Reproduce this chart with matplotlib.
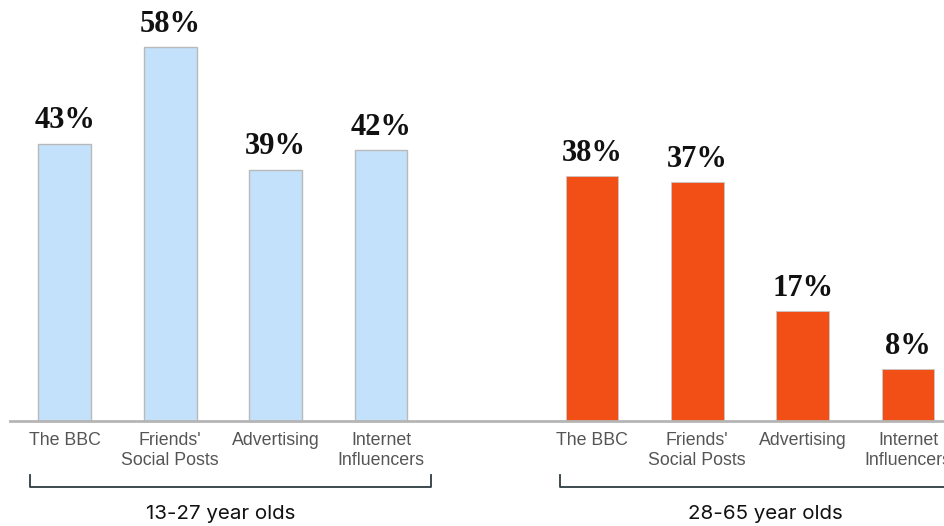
import matplotlib
matplotlib.use('Agg')
import matplotlib.pyplot as plt

# data
categories = ["The BBC", "Friends'\nSocial Posts", "Advertising", "Internet\nInfluencers"]
young_values = [43, 58, 39, 42]
older_values = [38, 37, 17, 8]
group_names = ['13-27 year olds', '28-65 year olds']

young_pos = [0, 1, 2, 3]
older_pos = [5, 6, 7, 8]

fig = plt.figure(figsize=(9.45, 5.26), dpi=100)
ax = fig.add_axes([10 / 945, 105 / 526, 935 / 945, 421 / 526])

ax.bar(young_pos, young_values, width=0.5, color='#c4e1fb', edgecolor='#b9b9b9', linewidth=1)
ax.bar(older_pos, older_values, width=0.5, color='#f24f17', edgecolor='#c8c8c8', linewidth=0.6)

# value labels
for x, v in zip(young_pos + older_pos, young_values + older_values):
    ax.annotate(f'{v}%', (x, v), xytext=(0, 6), textcoords='offset points',
                ha='center', va='bottom', fontsize=22, fontweight='bold',
                family='Liberation Serif', color='#111111')

ax.set_xlim(-0.52, 8.35)
ax.set_ylim(0, 65.3)

for s in ['top', 'right', 'left']:
    ax.spines[s].set_visible(False)
ax.spines['bottom'].set_color('#b5b5b5')
ax.spines['bottom'].set_linewidth(2)
ax.set_yticks([])
ax.set_xticks(young_pos + older_pos)
ax.set_xticklabels(categories + categories, fontsize=12.8, family='Liberation Sans',
                   color='#555555', linespacing=1.2)
ax.tick_params(axis='x', length=0, pad=8)

# brackets under each group
tr = ax.get_xaxis_transform()
brackets = [(-0.33, 3.47), (4.70, 8.48)]
for (x0, x1) in brackets:
    ax.plot([x0, x0, x1, x1], [-0.128, -0.157, -0.157, -0.128], color='#2d3b40',
            linewidth=1.3, transform=tr, clip_on=False)

label_x = [1.48, 6.65]
for x, name in zip(label_x, group_names):
    ax.text(x, -0.222, name, transform=tr, ha='center', va='center',
            fontsize=14.8, family='Inter', color='#111111')

plt.savefig('out.png', dpi=100)
